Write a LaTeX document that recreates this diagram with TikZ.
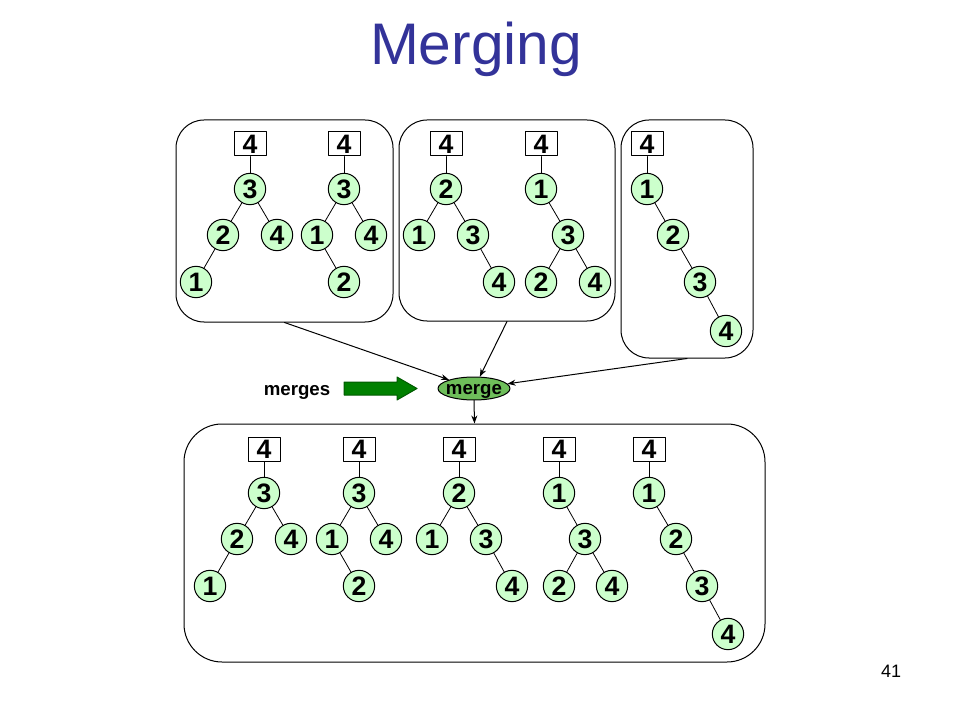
\documentclass[tikz,border=0pt]{standalone}
\usepackage{fontspec}
\setmainfont{Liberation Sans}
\usetikzlibrary{shapes.geometric,arrows.meta}
\definecolor{kgreen}{RGB}{204,255,204}
\definecolor{mgreen}{RGB}{110,190,90}
\definecolor{agreen}{RGB}{0,128,0}
\definecolor{ttblue}{RGB}{51,51,153}
\begin{document}
\begin{tikzpicture}[>={Stealth[length=6pt,width=4.5pt]},line join=round,line cap=round,x=0.75pt,y=-0.75pt,
	kn/.style={circle,draw,line width=.75pt,fill=kgreen,minimum size=23.5pt,inner sep=0pt,font=\fontsize{20}{22}\selectfont\bfseries},
	kb/.style={rectangle,draw,line width=.75pt,fill=white,minimum width=24pt,minimum height=18pt,inner sep=0pt,font=\fontsize{20}{22}\selectfont\bfseries},
	grp/.style={draw,line width=.75pt,rounded corners=21pt,inner sep=0pt},
	lk/.style={line width=.6pt}]
	\useasboundingbox (0,0) rectangle (960,720);
	\node[anchor=base,text=ttblue,font=\fontsize{44}{50}\selectfont] (title) at (476,65) {Merging};
	\node[font=\fontsize{13.5}{16}\selectfont] (pg) at (891,671) {41};
	% groups
	\node[grp,minimum width=162.75pt,minimum height=151.5pt] (g1) at (284.5,221) {};
	\node[grp,minimum width=162pt,minimum height=150.75pt] (g2) at (507,220.5) {};
	\node[grp,minimum width=99pt,minimum height=178.5pt] (g3) at (687,239) {};
	\node[grp,rounded corners=28.5pt,minimum width=435.75pt,minimum height=178.5pt] (bot) at (474.5,543) {};
	% key boxes
	\foreach \n/\x/\y in {A0/250/144,B0/344/144,C0/446/144,D0/541/144,E0/647/144,
		F0/264/449,G0/359/449,H0/459/449,I0/559/449,J0/649/449}
		\node[kb] (\n) at (\x,\y) {4};
	% tree nodes
	\foreach \n/\x/\y/\t in {A1/250/189/3,A2/223/235/2,A3/277/235/4,A4/196/282/1,
		B1/344/189/3,B2/317/235/1,B3/371/235/4,B4/344/282/2,
		C1/446/189/2,C2/419/235/1,C3/473/235/3,C4/499/282/4,
		D1/541/189/1,D2/568/235/3,D3/541/282/2,D4/595/282/4,
		E1/647/189/1,E2/673/235/2,E3/700/282/3,E4/726/331/4,
		F1/264/493/3,F2/237/539/2,F3/291/539/4,F4/210/586/1,
		G1/359/493/3,G2/332/539/1,G3/386/539/4,G4/359/586/2,
		H1/459/493/2,H2/432/539/1,H3/486/539/3,H4/512/586/4,
		I1/559/493/1,I2/585/539/3,I3/559/586/2,I4/612/586/4,
		J1/649/493/1,J2/676/539/2,J3/702/586/3,J4/728/634/4}
		\node[kn] (\n) at (\x,\y) {\t};
	\foreach \a/\b in {A0/A1,A1/A2,A1/A3,A2/A4,B0/B1,B1/B2,B1/B3,B2/B4,
		C0/C1,C1/C2,C1/C3,C3/C4,D0/D1,D1/D2,D2/D3,D2/D4,E0/E1,E1/E2,E2/E3,E3/E4,
		F0/F1,F1/F2,F1/F3,F2/F4,G0/G1,G1/G2,G1/G3,G2/G4,
		H0/H1,H1/H2,H1/H3,H3/H4,I0/I1,I1/I2,I2/I3,I2/I4,J0/J1,J1/J2,J2/J3,J3/J4}
		\draw[lk] (\a)--(\b);
	% merge step
	\node[ellipse,draw,line width=.75pt,fill=mgreen,minimum width=54pt,minimum height=17.25pt,inner xsep=-4pt,inner ysep=-2pt,
		text height=1.6ex,text depth=0pt,font=\fontsize{14}{16}\selectfont\bfseries] (merge) at (474,388.5) {merge};
	\node[anchor=base,font=\fontsize{14}{16}\selectfont\bfseries] (mlabel) at (297,395) {merges};
	\path (344,382)coordinate (p1) (397,382)coordinate (p2) (397,377)coordinate (p3)
		(417,388.5)coordinate (p4) (397,400)coordinate (p5) (397,395)coordinate (p6) (344,395)coordinate (p7);
	\draw[fill=agreen,draw=agreen!70!black,line width=.75pt] (p1)--(p2)--(p3)--(p4)--(p5)--(p6)--(p7)--cycle;
	\foreach \g in {g1,g2,g3} \draw[->,line width=.75pt] (\g.south)--(merge);
	\draw[->,line width=.75pt] (merge.south)--(bot.north);
\end{tikzpicture}
\end{document}
